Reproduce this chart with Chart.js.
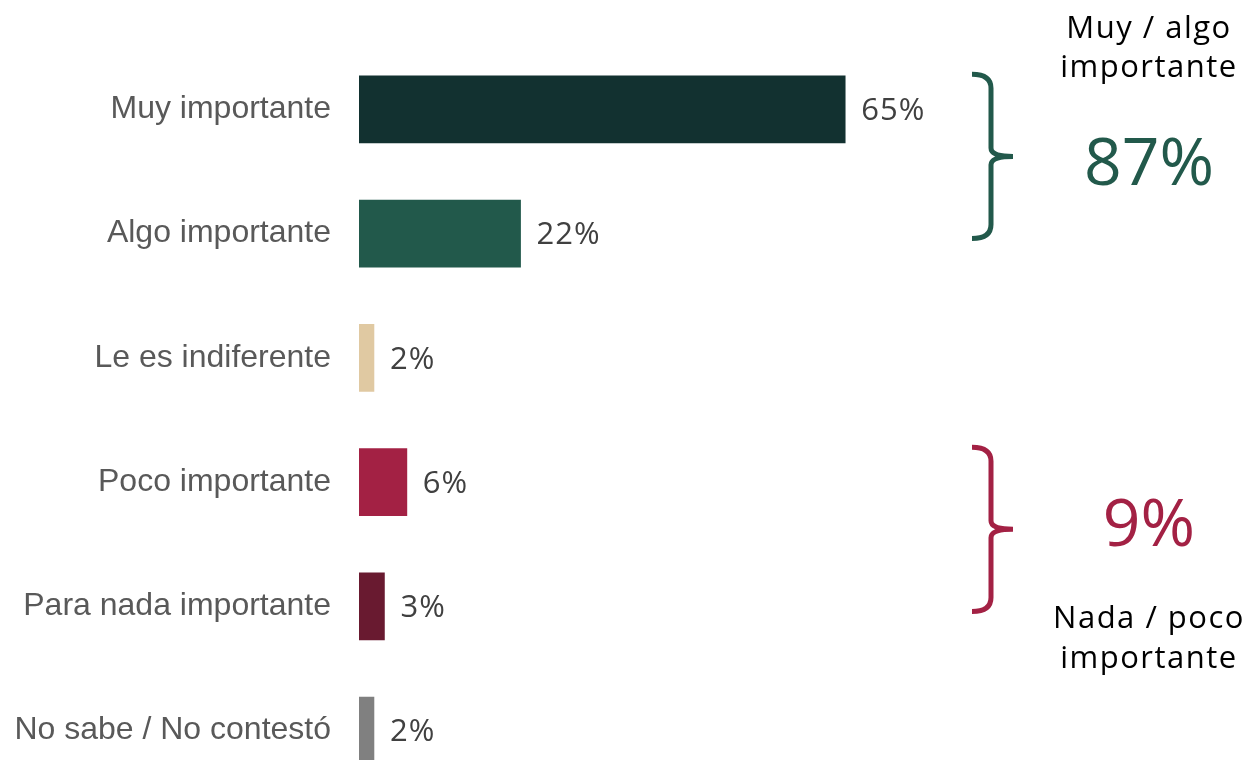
<!DOCTYPE html>
<html>
<head>
<meta charset="utf-8">
<script src="https://cdn.jsdelivr.net/npm/chart.js@4/dist/chart.umd.min.js"></script>
<style>
  html, body { margin: 0; padding: 0; background: #fff; overflow: hidden; }
  #wrap { width: 1256px; height: 840px; }
</style>
</head>
<body>
<div id="wrap"><canvas id="importanceChart"></canvas></div>
<script>
const categories = [
  "Muy importante",
  "Algo importante",
  "Le es indiferente",
  "Poco importante",
  "Para nada importante",
  "No sabe / No contestó"
];
const values = [65, 21.6, 2, 6.4, 3.4, 2];
const barColors = ["#123130", "#22594b", "#e0c9a2", "#a32144", "#691a30", "#808080"];

// grouped totals shown with braces on the right
const groups = [
  { from: 0, to: 1, total: "87%", color: "#22594b", title: ["Muy / algo", "importante"], titlePos: "above", shift: 6 },
  { from: 3, to: 4, total: "9%", color: "#a32144", title: ["Nada / poco", "importante"], titlePos: "below", shift: -6 }
];

const labelFont = "'Open Sans', sans-serif";

const valueLabels = {
  id: "valueLabels",
  afterDatasetsDraw(chart) {
    const ctx = chart.ctx;
    const meta = chart.getDatasetMeta(0);
    ctx.save();
    ctx.font = "31px " + labelFont;
    ctx.letterSpacing = "1px";
    ctx.fillStyle = "#404040";
    ctx.textAlign = "left";
    ctx.textBaseline = "middle";
    meta.data.forEach((bar, i) => {
      ctx.fillText(Math.round(values[i]) + "%", bar.x + 16, bar.y + 2);
    });
    ctx.restore();
  }
};

const braces = {
  id: "braces",
  afterDraw(chart) {
    const ctx = chart.ctx;
    const y = chart.scales.y;
    const x0 = 972, xm = 991, tip = 1013, r = 14;
    groups.forEach(g => {
      const top = y.getPixelForValue(g.from) - 35;
      const bot = y.getPixelForValue(g.to) + 5;
      const mid = (top + bot) / 2;
      ctx.save();
      ctx.strokeStyle = g.color;
      ctx.lineWidth = 5;
      ctx.beginPath();
      ctx.moveTo(x0, top);
      ctx.quadraticCurveTo(xm, top, xm, top + r);
      ctx.lineTo(xm, mid - r * 0.6);
      ctx.quadraticCurveTo(xm, mid, tip, mid);
      ctx.moveTo(tip, mid);
      ctx.quadraticCurveTo(xm, mid, xm, mid + r * 0.6);
      ctx.lineTo(xm, bot - r);
      ctx.quadraticCurveTo(xm, bot, x0, bot);
      ctx.stroke();

      const cx = 1149;
      ctx.textAlign = "center";
      ctx.textBaseline = "middle";
      ctx.fillStyle = g.color;
      ctx.font = "66px " + labelFont;
      ctx.fillText(g.total, cx, mid + 4 + g.shift);

      ctx.fillStyle = "#000";
      ctx.font = "31px " + labelFont;
      ctx.letterSpacing = "1.5px";
      if (g.titlePos === "above") {
        ctx.fillText(g.title[0], cx, top - 45);
        ctx.fillText(g.title[1], cx, top - 6);
      } else {
        ctx.fillText(g.title[0], cx, bot + 8);
        ctx.fillText(g.title[1], cx, bot + 48);
      }
      ctx.restore();
    });
  }
};

new Chart(document.getElementById("importanceChart"), {
  type: "bar",
  data: {
    labels: categories,
    datasets: [{
      data: values,
      backgroundColor: barColors,
      borderWidth: 0,
      barThickness: 67
    }]
  },
  options: {
    indexAxis: "y",
    responsive: true,
    maintainAspectRatio: false,
    animation: false,
    layout: { padding: { top: 46, bottom: 8, left: 0, right: 149 } },
    plugins: {
      legend: { display: false },
      tooltip: { enabled: false }
    },
    scales: {
      x: {
        display: false,
        min: 0,
        max: 100
      },
      y: {
        grid: { display: false, drawTicks: false },
        border: { display: false },
        ticks: {
          color: "#595959",
          padding: 28,
          font: { family: "'Liberation Sans', Arial, sans-serif", size: 32 }
        },
        afterFit(scale) { scale.width = 359; }
      }
    }
  },
  plugins: [valueLabels, braces]
});
</script>
</body>
</html>
